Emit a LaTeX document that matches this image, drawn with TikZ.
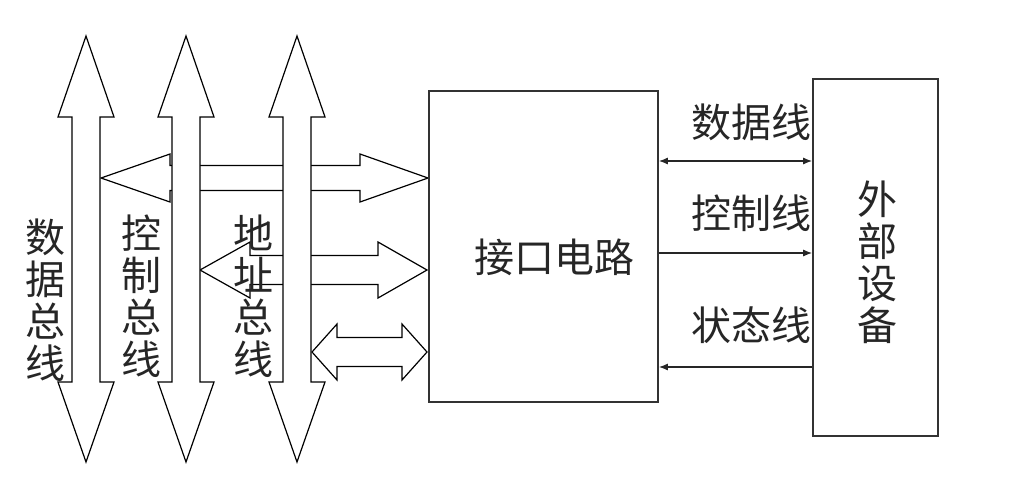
\documentclass[tikz,border=0pt]{standalone}
\usepackage{fontspec}
\newfontfamily\cjk{Noto Sans CJK SC}
\usetikzlibrary{arrows.meta,positioning}
\tikzset{
 io box/.style={draw=black!80,line width=1.6pt,fill=white,inner sep=0pt},
 io bus/.style={draw=black,line width=1.2pt,fill=white,line join=miter},
 io line/.style={line width=1.3pt,draw=black!85,>={Latex[length=9pt,width=7pt]}},
 io label/.style={font=\cjk\fontsize{40}{42}\selectfont,text=black!85,inner sep=0pt},
 io vlabel/.style={io label,align=center}
}
\begin{document}
\begin{tikzpicture}[x=1pt,y=-1pt]
 \useasboundingbox (0,0) rectangle (1024,483);
 % wide arrows from the buses to the interface
 \foreach \xa/\xb/\xc/\xd/\yc/\s/\h in {101/170/360/428/178/12.5/24,
                                         200/250/378/427/270/14.5/28,
                                         312/337/402/427/352/14.5/28}{
   \draw[io bus] (\xa,\yc) -- (\xb,\yc-\h) -- (\xb,\yc-\s) -- (\xc,\yc-\s)
     -- (\xc,\yc-\h) -- (\xd,\yc) -- (\xc,\yc+\h) -- (\xc,\yc+\s)
     -- (\xb,\yc+\s) -- (\xb,\yc+\h) -- cycle;
 }
 % data, control and address bus
 \foreach \x in {86,186,297}{
   \draw[io bus] (\x,36) -- (\x+28,117) -- (\x+14,117) -- (\x+14,382)
     -- (\x+28,382) -- (\x,462) -- (\x-28,382) -- (\x-14,382)
     -- (\x-14,117) -- (\x-28,117) -- cycle;
 }
 \node[io vlabel] (dbus) at (45,300) {数\\据\\总\\线};
 \node[io vlabel] (cbus) at (141,296) {控\\制\\总\\线};
 \node[io vlabel] (abus) at (253,296) {地\\址\\总\\线};

 % interface and device
 \node[io box,minimum width=229pt,minimum height=311pt] (iface) at (543.5,246.5) {};
 \node[io label] (ifacetxt) at (554,257) {接口电路};
 \node[io box,minimum width=125pt,minimum height=357pt] (dev) at (875.5,257.5) {};
 \node[io vlabel] (devtxt) at (877,262) {外\\部\\设\\备};

 \coordinate (dline) at (0,161);
 \coordinate (cline) at (0,253);
 \coordinate (sline) at (0,367);
 \draw[io line,<->] (iface.east |- dline) -- (dev.west |- dline);
 \draw[io line,->] (iface.east |- cline) -- (dev.west |- cline);
 \draw[io line,->] (dev.west |- sline) -- (iface.east |- sline);
 \node[io label] (dlbl) at (751,122) {数据线};
 \node[io label] (clbl) at (751,213) {控制线};
 \node[io label] (slbl) at (751,325) {状态线};
\end{tikzpicture}
\end{document}
